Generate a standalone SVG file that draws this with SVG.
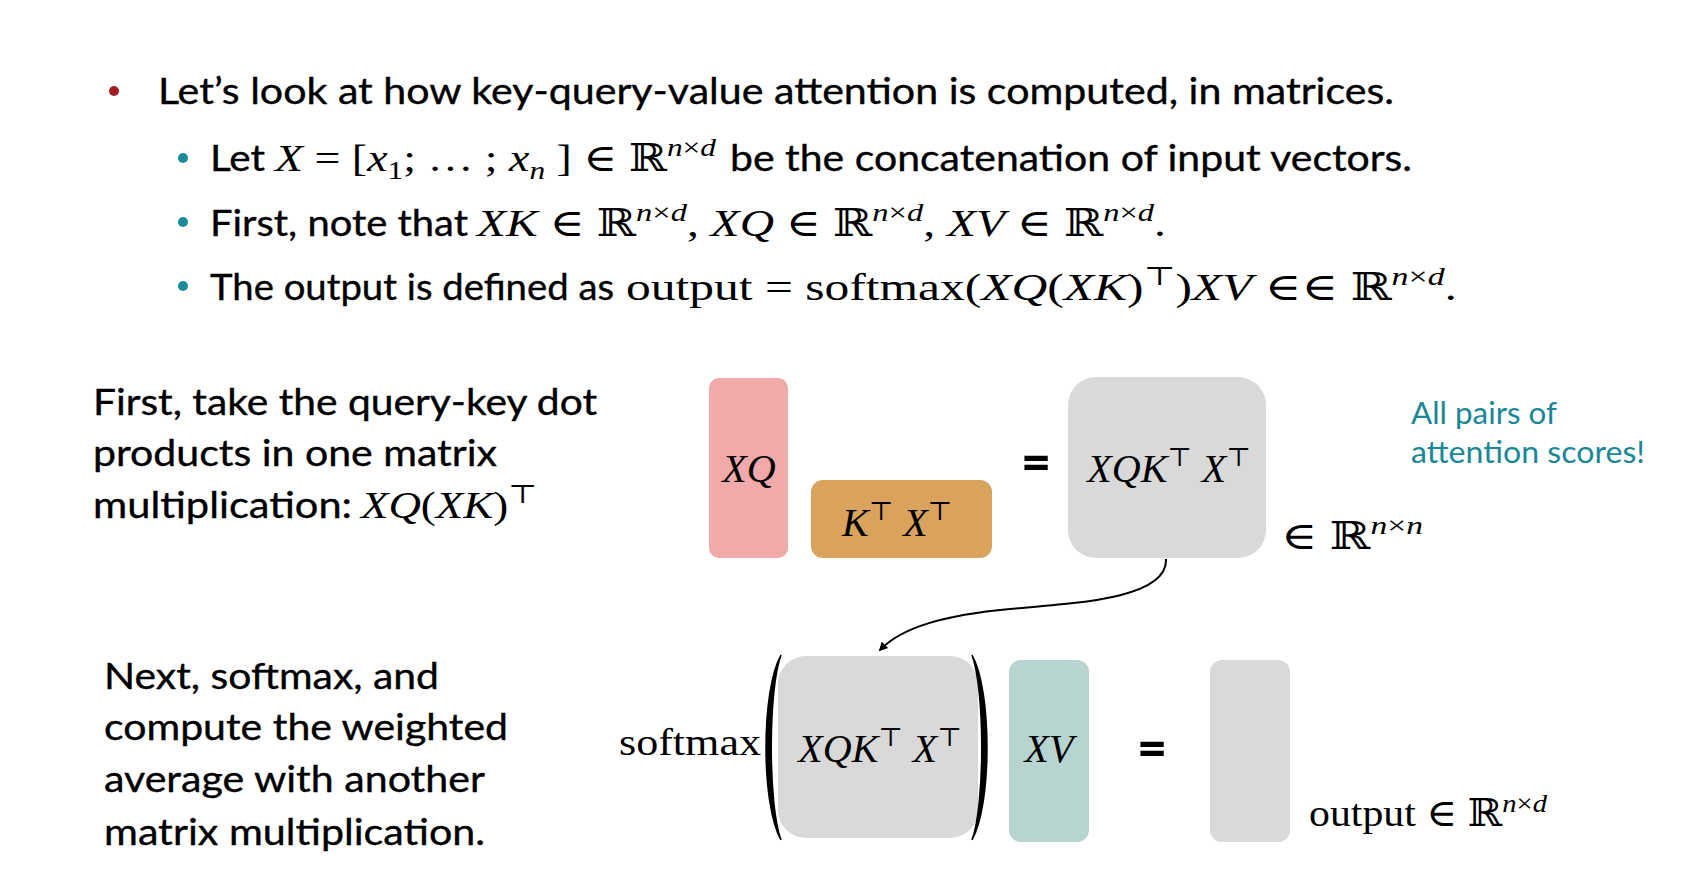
<svg xmlns="http://www.w3.org/2000/svg" width="1699" height="870" viewBox="0 0 1699 870">
  <style>
    .body { font-family: Lato, "Open Sans", sans-serif; font-size: 36px; fill: #000; stroke: #000; stroke-width: 0.35; }
    .m { font-family: "Liberation Serif", "DejaVu Serif", serif; font-size: 38px; fill: #000; }
    .i { font-style: italic; }
    .sup { font-size: 26px; }
    .lbl { font-family: "Liberation Serif", "DejaVu Serif", serif; font-size: 40px; font-style: italic; fill: #000; text-anchor: middle; }
    .eq { font-family: Lato, sans-serif; font-weight: 900; font-size: 52px; fill: #000; }
    .note { font-family: Lato, "Open Sans", sans-serif; font-size: 30px; fill: #1a8797; }
    .mat-q { fill: #f1a9a9; }
    .mat-k { fill: #d9a35e; }
    .mat-s { fill: #d9d9d9; }
    .mat-v { fill: #b7d4d1; }
    .conn { fill: none; stroke: #000; stroke-width: 2; }
  </style>
  <defs>
    <marker id="arrowhead" viewBox="0 0 10 10" refX="8" refY="5" markerWidth="10" markerHeight="9" orient="auto" markerUnits="userSpaceOnUse">
      <path d="M0,0 L10,5 L0,10 z" fill="#000"/>
    </marker>
  </defs>

  <!-- bullet list -->
  <g id="bullets">
    <circle cx="114" cy="91" r="5" fill="#a01f22"/>
    <text class="body" x="158" y="104" textLength="1236" lengthAdjust="spacingAndGlyphs">Let’s look at how key-query-value attention is computed, in matrices.</text>

    <circle cx="183" cy="158" r="5" fill="#1a8a9b"/>
    <text class="body" x="210" y="171" textLength="55" lengthAdjust="spacingAndGlyphs">Let</text>
    <text class="m" x="275" y="171" textLength="441" lengthAdjust="spacingAndGlyphs"><tspan class="i">X</tspan> = [<tspan class="i">x</tspan><tspan class="sup" dy="8">1</tspan><tspan dy="-8">; … ; </tspan><tspan class="i">x</tspan><tspan class="sup i" dy="8">n</tspan><tspan dy="-8"> ] ∈ ℝ</tspan><tspan class="sup" dy="-15"><tspan class="i">n</tspan>×<tspan class="i">d</tspan></tspan></text>
    <text class="body" x="730" y="171" textLength="682" lengthAdjust="spacingAndGlyphs">be the concatenation of input vectors.</text>

    <circle cx="183" cy="222" r="5" fill="#1a8a9b"/>
    <text class="body" x="210" y="236" textLength="258" lengthAdjust="spacingAndGlyphs">First, note that</text>
    <text class="m" x="477" y="236" textLength="689" lengthAdjust="spacingAndGlyphs"><tspan class="i">XK</tspan> ∈ ℝ<tspan class="sup" dy="-15"><tspan class="i">n</tspan>×<tspan class="i">d</tspan></tspan><tspan dy="15">, </tspan><tspan class="i">XQ</tspan> ∈ ℝ<tspan class="sup" dy="-15"><tspan class="i">n</tspan>×<tspan class="i">d</tspan></tspan><tspan dy="15">, </tspan><tspan class="i">XV</tspan> ∈ ℝ<tspan class="sup" dy="-15"><tspan class="i">n</tspan>×<tspan class="i">d</tspan></tspan><tspan dy="15">.</tspan></text>

    <circle cx="183" cy="286" r="5" fill="#1a8a9b"/>
    <text class="body" x="210" y="300" textLength="404" lengthAdjust="spacingAndGlyphs">The output is defined as</text>
    <text class="m" x="626" y="300" textLength="831" lengthAdjust="spacingAndGlyphs">output =  softmax(<tspan class="i">XQ</tspan>(<tspan class="i">XK</tspan>)<tspan class="sup" dy="-15">⊤</tspan><tspan dy="15">)</tspan><tspan class="i">XV</tspan> ∈∈ ℝ<tspan class="sup" dy="-15"><tspan class="i">n</tspan>×<tspan class="i">d</tspan></tspan><tspan dy="15">.</tspan></text>
  </g>

  <!-- explanatory captions -->
  <g id="caption-scores">
    <text class="body" x="93" y="415" textLength="504" lengthAdjust="spacingAndGlyphs">First, take the query-key dot</text>
    <text class="body" x="93" y="466" textLength="404" lengthAdjust="spacingAndGlyphs">products in one matrix</text>
    <text class="body" x="93" y="518" textLength="259" lengthAdjust="spacingAndGlyphs">multiplication:</text>
    <text class="m" x="361" y="518" textLength="176" lengthAdjust="spacingAndGlyphs"><tspan class="i">XQ</tspan>(<tspan class="i">XK</tspan>)<tspan class="sup" dy="-15">⊤</tspan></text>
  </g>
  <g id="caption-weighted">
    <text class="body" x="104" y="689" textLength="335" lengthAdjust="spacingAndGlyphs">Next, softmax, and</text>
    <text class="body" x="104" y="740" textLength="404" lengthAdjust="spacingAndGlyphs">compute the weighted</text>
    <text class="body" x="104" y="792" textLength="381" lengthAdjust="spacingAndGlyphs">average with another</text>
    <text class="body" x="104" y="845" textLength="381" lengthAdjust="spacingAndGlyphs">matrix multiplication.</text>
  </g>

  <!-- first product: XQ times K^T X^T -->
  <g id="node-xq">
    <rect class="mat-q" x="709" y="378" width="79" height="180" rx="10"/>
    <text class="lbl" x="749" y="482">XQ</text>
  </g>
  <g id="node-kx">
    <rect class="mat-k" x="811" y="480" width="181" height="78" rx="12"/>
    <text class="lbl" x="897" y="536">K<tspan class="sup" font-style="normal" dy="-16">⊤</tspan><tspan dy="16"> X</tspan><tspan class="sup" font-style="normal" dy="-16">⊤</tspan></text>
  </g>
  <g id="eq-top">
    <text class="eq" x="1021" y="480">=</text>
  </g>
  <g id="node-scores">
    <rect class="mat-s" x="1068" y="377" width="198" height="181" rx="28"/>
    <text class="lbl" x="1169" y="482">XQK<tspan class="sup" font-style="normal" dy="-16">⊤</tspan><tspan dy="16"> X</tspan><tspan class="sup" font-style="normal" dy="-16">⊤</tspan></text>
  </g>
  <g id="dim-scores">
    <text class="m" x="1281" y="549" textLength="142" lengthAdjust="spacingAndGlyphs">∈ ℝ<tspan class="sup" dy="-15"><tspan class="i">n</tspan>×<tspan class="i">n</tspan></tspan></text>
  </g>
  <g id="note-scores">
    <text class="note" x="1411" y="424" textLength="146" lengthAdjust="spacingAndGlyphs">All pairs of</text>
    <text class="note" x="1411" y="463" textLength="234" lengthAdjust="spacingAndGlyphs">attention scores!</text>
  </g>

  <!-- second product: softmax(scores) times XV -->
  <g id="node-softmax">
    <text class="m" x="619" y="755" font-size="40" textLength="142" lengthAdjust="spacingAndGlyphs">softmax</text>
    <path d="M781,655 C761,690 761,805 781,840 C768,805 768,690 781,655 Z" fill="#000" stroke="#000" stroke-width="1.5"/>
    <rect class="mat-s" x="778" y="656" width="200" height="182" rx="28"/>
    <path d="M972,655 C992,690 992,805 972,840 C985,805 985,690 972,655 Z" fill="#000" stroke="#000" stroke-width="1.5"/>
    <text class="lbl" x="880" y="762">XQK<tspan class="sup" font-style="normal" dy="-16">⊤</tspan><tspan dy="16"> X</tspan><tspan class="sup" font-style="normal" dy="-16">⊤</tspan></text>
  </g>
  <g id="node-xv">
    <rect class="mat-v" x="1009" y="660" width="80" height="182" rx="12"/>
    <text class="lbl" x="1049" y="762">XV</text>
  </g>
  <g id="eq-bottom">
    <text class="eq" x="1137" y="766">=</text>
  </g>
  <g id="node-output">
    <rect class="mat-s" x="1210" y="660" width="80" height="182" rx="12"/>
    <text class="m" x="1309" y="826" font-size="34" textLength="238" lengthAdjust="spacingAndGlyphs">output ∈ ℝ<tspan class="sup" font-size="24" dy="-14"><tspan class="i">n</tspan>×<tspan class="i">d</tspan></tspan></text>
  </g>

  <!-- connector: scores feed into the softmax -->
  <g id="connectors">
    <path class="conn" d="M1166,559 C1168,598 1080,603 1010,609 C945,615 902,627 880,650" marker-end="url(#arrowhead)"/>
  </g>
</svg>
